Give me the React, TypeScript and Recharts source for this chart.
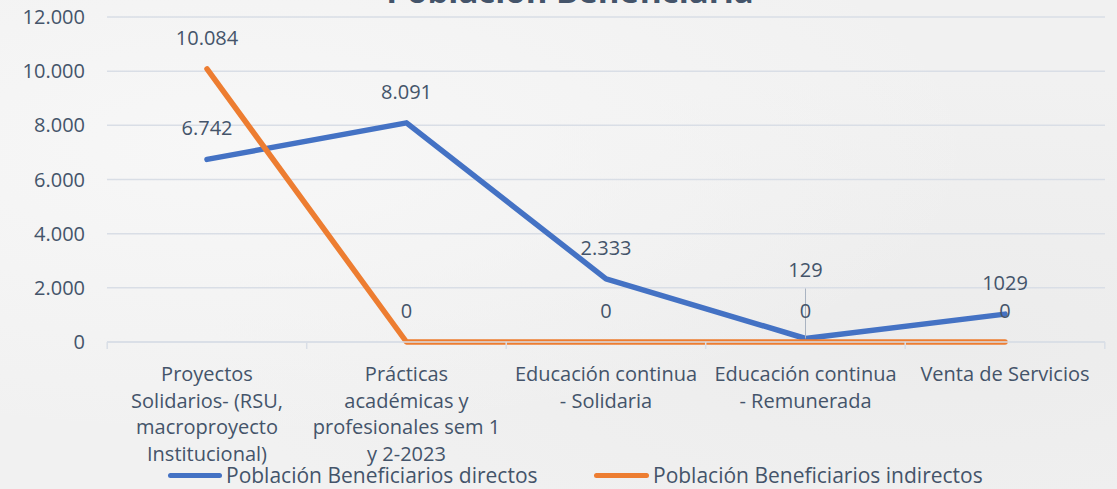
import { CartesianGrid, LabelList, Line, LineChart, XAxis, YAxis } from 'recharts'

const categories = [
  'Proyectos\nSolidarios- (RSU,\nmacroproyecto\nInstitucional)',
  'Prácticas\nacadémicas y\nprofesionales sem 1\ny 2-2023',
  'Educación continua\n- Solidaria',
  'Educación continua\n- Remunerada',
  'Venta de Servicios',
]
const directos = [6742, 8091, 2333, 129, 1029]
const indirectos = [10084, 0, 0, 0, 0]
const directosLabels = ['6.742', '8.091', '2.333', '129', '1029']
const indirectosLabels = ['10.084', '0', '0', '0', '0']
const yTicks = [0, 2000, 4000, 6000, 8000, 10000, 12000]

const data = categories.map((name, i) => ({ name, directos: directos[i], indirectos: indirectos[i] }))

const W = 1117
const H = 489
const LEFT = 107
const RIGHT = 12
const HALF_BAND = (W - LEFT - RIGHT) / categories.length / 2
const TEXT = '#44546A'
const GRID = '#D9DEE6'
const BLUE = '#4472C4'
const ORANGE = '#ED7D31'
const FONT = '"Open Sans", sans-serif'

const fmt = (v: number) => String(v).replace(/\B(?=(\d{3})+(?!\d))/g, '.')

function CategoryTick(props: any) {
  const { x, y, payload, index } = props
  const lines = String(payload.value).split('\n')
  const last = index === categories.length - 1
  return (
    <g>
      <line x1={x - HALF_BAND} x2={x - HALF_BAND} y1={y} y2={y + 7} stroke={GRID} strokeWidth={1.5} />
      {last ? <line x1={x + HALF_BAND} x2={x + HALF_BAND} y1={y} y2={y + 7} stroke={GRID} strokeWidth={1.5} /> : null}
      <text x={x} y={y + 39} textAnchor="middle" fill={TEXT} fontSize={20} fontFamily={FONT}>
        {lines.map((l, i) => (
          <tspan key={i} x={x} dy={i === 0 ? 0 : 26.5}>{l}</tspan>
        ))}
      </text>
    </g>
  )
}

const makeLabel = (labels: string[], leaderAt: number) => (props: any) => {
  const { x, y, index } = props
  // the label over the near-zero point was dragged up in the original, with a leader line
  const lift = index === leaderAt ? 62 : 24
  return (
    <g>
      {index === leaderAt ? <line x1={x} x2={x} y1={y - 50} y2={y} stroke="#A9B3C1" strokeWidth={1} /> : null}
      <text x={x} y={y - lift} textAnchor="middle" fill={TEXT} fontSize={20} fontFamily={FONT}>
        {labels[index]}
      </text>
    </g>
  )
}

export default function App() {
  return (
    <div
      style={{
        position: 'relative',
        width: W,
        height: H,
        overflow: 'hidden',
        background:
          'radial-gradient(ellipse at 20% 30%, #f7f7f7 0%, transparent 60%), radial-gradient(ellipse at 85% 70%, #ececec 0%, transparent 55%), #f1f1f1',
        fontFamily: FONT,
      }}
    >
      <style>{'body{margin:0}'}</style>
      <div
        style={{
          position: 'absolute',
          left: 0,
          width: W,
          top: -29,
          textAlign: 'center',
          fontSize: 33,
          fontWeight: 700,
          color: TEXT,
          lineHeight: '40px',
          paddingLeft: 23,
          boxSizing: 'border-box',
        }}
      >
        Población Beneficiaria
      </div>
      <LineChart width={W} height={H} data={data} margin={{ top: 17, right: RIGHT, bottom: 0, left: 0 }}>
        <CartesianGrid vertical={false} stroke={GRID} strokeWidth={1.5} />
        <XAxis
          dataKey="name"
          interval={0}
          height={147}
          padding={{ left: 100, right: 100 }}
          axisLine={{ stroke: GRID, strokeWidth: 1.5 }}
          tickLine={false}
          tickSize={0}
          tickMargin={0}
          tick={<CategoryTick />}
        />
        <YAxis
          width={LEFT}
          domain={[0, 12000]}
          ticks={yTicks}
          axisLine={false}
          tickLine={false}
          tickSize={0}
          tickMargin={22}
          tickFormatter={fmt}
          tick={{ fill: TEXT, fontSize: 20, fontFamily: FONT }}
        />
        <Line
          type="linear"
          dataKey="directos"
          stroke={BLUE}
          strokeWidth={5.5}
          strokeLinecap="round"
          strokeLinejoin="round"
          dot={false}
          activeDot={false}
          isAnimationActive={false}
        >
          <LabelList dataKey="directos" content={makeLabel(directosLabels, 3)} />
        </Line>
        <Line
          type="linear"
          dataKey="indirectos"
          stroke={ORANGE}
          strokeWidth={5.5}
          strokeLinecap="round"
          strokeLinejoin="round"
          dot={false}
          activeDot={false}
          isAnimationActive={false}
        >
          <LabelList dataKey="indirectos" content={makeLabel(indirectosLabels, -1)} />
        </Line>
      </LineChart>
      <div style={{ position: 'absolute', top: 461, left: 168, display: 'flex', alignItems: 'center', color: TEXT, fontSize: 21 }}>
        <span style={{ display: 'inline-block', width: 54, height: 5, borderRadius: 3, background: BLUE, marginRight: 4 }} />
        Población Beneficiarios directos
      </div>
      <div style={{ position: 'absolute', top: 461, left: 594, display: 'flex', alignItems: 'center', color: TEXT, fontSize: 21 }}>
        <span style={{ display: 'inline-block', width: 55, height: 5, borderRadius: 3, background: ORANGE, marginRight: 4 }} />
        Población Beneficiarios indirectos
      </div>
    </div>
  )
}
